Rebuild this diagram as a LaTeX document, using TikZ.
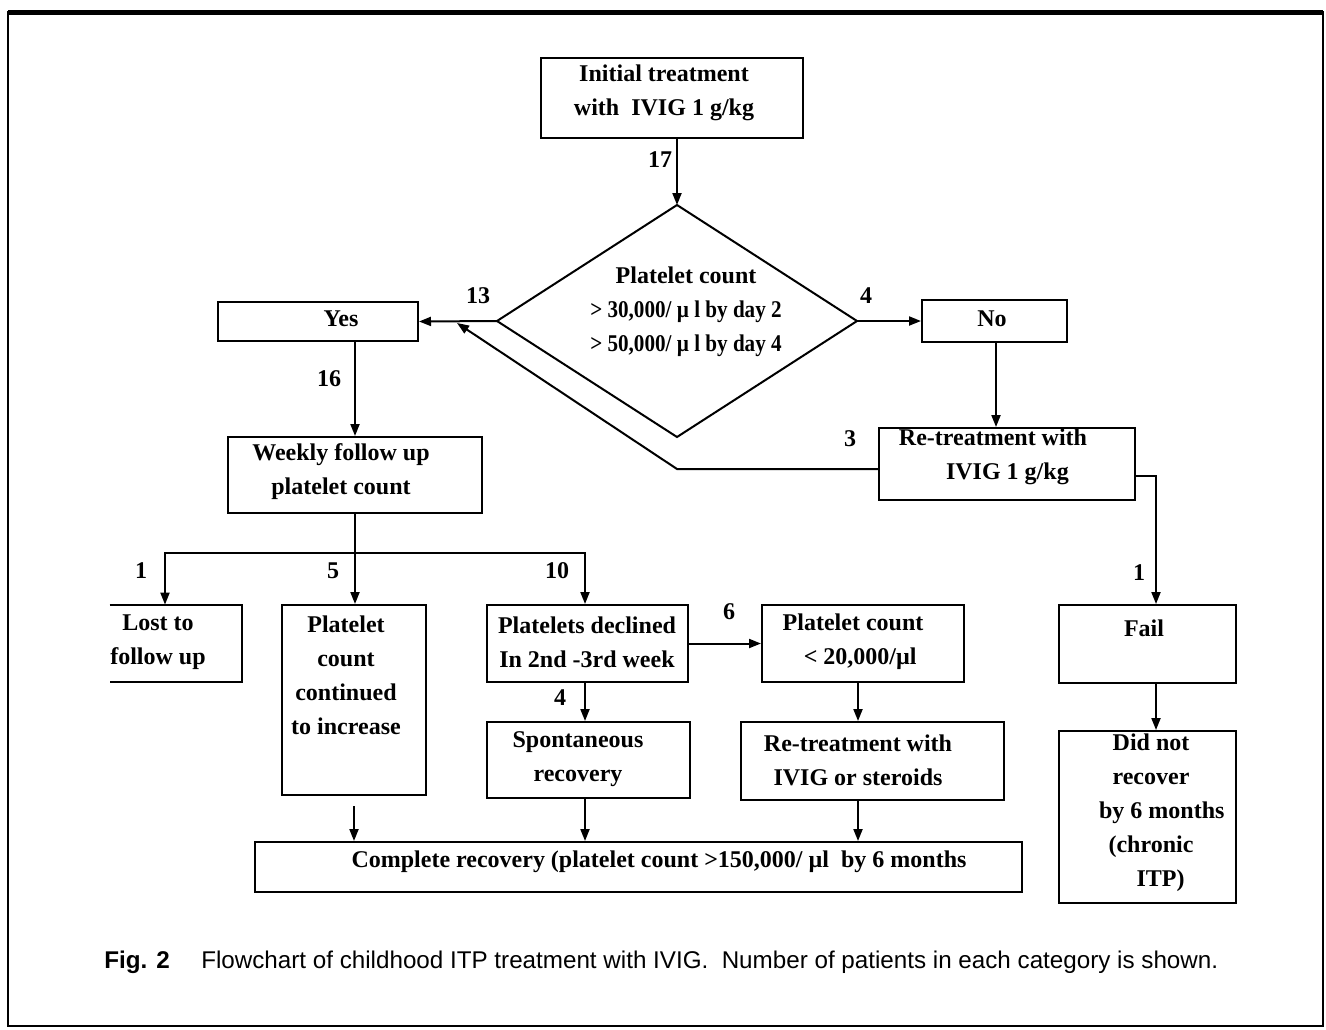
\documentclass[tikz,border=0pt]{standalone}
\usepackage{fontspec}
\setmainfont{Liberation Serif}
\newfontfamily\capfont{Liberation Sans}
\newfontfamily\narrowfont[FakeStretch=0.88]{Liberation Serif}
\usetikzlibrary{arrows.meta}
\newcommand{\mybox}[5]{\node[boxshape, minimum width={(#4-#2)*0.5pt}, minimum height={(#5-#3)*0.5pt}] (#1) at ({(#2+#4)/2},{(#3+#5)/2}) {};}
\begin{document}
\begin{tikzpicture}[x=0.5pt,y=-0.5pt,
  boxshape/.style={draw, line width=1pt, inner sep=0pt},
  nobox/.style={inner sep=0pt},
  txt/.style={inner sep=0pt, align=center, font=\bfseries\fontsize{12}{17}\selectfont},
  lbl/.style={inner sep=0pt, font=\bfseries\fontsize{12}{14}\selectfont},
  arr/.style={-{Triangle[length=6pt,width=4.5pt]}, line width=1pt},
  ln/.style={line width=1pt}]
\useasboundingbox (0,0) rectangle (1326,1029);
% frame
\draw[line width=1pt] (8,12) rectangle (1323,1026);
\draw[line width=2.5pt] (8,12) -- (1323,12);

% boxes
\mybox{init}{541}{58}{803}{138}
\node[txt] (initt) at (664,93) {Initial treatment\\with\ \ IVIG 1 g/kg};

\coordinate (dtop) at (677,205);
\coordinate (dleft) at (497,321);
\coordinate (dright) at (857,321);
\coordinate (dbot) at (677,437);
\draw[ln] (dtop) -- (dright) -- (dbot) -- (dleft) -- cycle;
\node[txt] (dtext) at (686,312) {Platelet count\\{\narrowfont\bfseries > 30,000/ µ l by day 2}\\{\narrowfont\bfseries > 50,000/ µ l by day 4}};

\mybox{yes}{218}{302}{418}{341}
\node[txt] (yest) at (341,319) {Yes};
\mybox{no}{922}{300}{1067}{342}
\node[txt] (not) at (992,319) {No};

\mybox{re1}{879}{428}{1135}{500}
\node[txt] (re1t) at (993,457) {Re-treatment with\\\hspace*{1.2em}IVIG 1 g/kg};

\mybox{weekly}{228}{437}{482}{513}
\node[txt] (weeklyt) at (341,472) {Weekly follow up\\platelet count};

\node[nobox, minimum width={132*0.5pt}, minimum height={77*0.5pt}] (lost) at (176,643.5) {};
\draw[ln] (lost.north west) -- (lost.north east) -- (lost.south east) -- (lost.south west);
\node[txt] (lostt) at (158,642) {Lost to\\follow up};

\mybox{cont}{282}{605}{426}{795}
\node[txt] (contt) at (346,675) {Platelet\\count\\continued\\to increase};

\mybox{decl}{487}{605}{688}{682}
\node[txt] (declt) at (587,642) {Platelets declined\\In 2nd -3rd week};

\mybox{lt}{762}{605}{964}{682}
\node[txt] (ltt) at (853,642) {Platelet count\\\hspace*{0.6em}< 20,000/µl};

\mybox{spont}{487}{722}{690}{798}
\node[txt] (spontt) at (578,759) {Spontaneous\\recovery};

\mybox{re2}{741}{722}{1004}{800}
\node[txt] (re2t) at (858,760) {Re-treatment with\\IVIG or steroids};

\mybox{comp}{255}{842}{1022}{892}
\node[txt] (compt) at (659,862) {Complete recovery (platelet count >150,000/ µl\ \ by 6 months};

\mybox{fail}{1059}{605}{1236}{683}
\node[txt] (failt) at (1144,628) {Fail};

\mybox{dnr}{1059}{731}{1236}{903}
\node[txt] (dnrt) at (1151,813) {Did not\\recover\\\hspace*{0.9em}by 6 months\\(chronic\\\hspace*{0.8em}ITP)};

% labels
\node[lbl] (n17) at (660,160) {17};
\node[lbl] (n13) at (478,296) {13};
\node[lbl] (n4a) at (866,296) {4};
\node[lbl] (n16) at (329,379) {16};
\node[lbl] (n3) at (850,439) {3};
\node[lbl] (n1a) at (141,571) {1};
\node[lbl] (n5) at (333,571) {5};
\node[lbl] (n10) at (557,571) {10};
\node[lbl] (n6) at (729,612) {6};
\node[lbl] (n4b) at (560,698) {4};
\node[lbl] (n1b) at (1139,573) {1};

% connectors
\draw[arr] (init.south -| dtop) -- (dtop);
\draw[arr] (dleft) -- (yes.east);
\draw[arr] (dright) -- (no.west);
\coordinate (nodown) at (996,342);
\draw[arr] (nodown) -- (nodown |- re1.north);
\coordinate (rbend) at (677,469);
\coordinate (rtip) at (457,323);
\draw[arr] (re1.west |- rbend) -- (rbend) -- (rtip);
\coordinate (rcorner) at (1156,476);
\draw[arr] (re1.east |- rcorner) -- (rcorner) -- (rcorner |- fail.north);
\draw[arr] (fail.south -| rcorner) -- (rcorner |- dnr.north);
\draw[arr] (yes.south -| weekly.north) -- (weekly.north);
\coordinate (bl) at (165,553);
\coordinate (br) at (585,553);
\draw[ln] (weekly.south) -- (weekly.south |- bl);
\draw[arr] (weekly.south |- bl) -- (bl) -- (bl |- lost.north);
\draw[arr] (weekly.south |- bl) -- (br) -- (br |- decl.north);
\draw[arr] (weekly.south |- bl) -- (weekly.south |- cont.north);
\draw[arr] (decl.east) -- (lt.west);
\draw[arr] (decl.south -| br) -- (br |- spont.north);
\draw[arr] (lt.south -| re2t) -- (re2t |- re2.north);
\draw[arr] ([yshift=-5pt]cont.south) -- (cont.south |- comp.north);
\draw[arr] (spont.south -| br) -- (br |- comp.north);
\draw[arr] (re2.south -| re2t) -- (re2t |- comp.north);

% caption
\node[anchor=west, inner sep=0pt, font=\capfont\fontsize{12.1}{14}\selectfont] (cap) at (104,962) {\textbf{Fig. 2}\hspace{1.3em}Flowchart of childhood ITP treatment with IVIG.\ \ Number of patients in each category is shown.};
\end{tikzpicture}
\end{document}
